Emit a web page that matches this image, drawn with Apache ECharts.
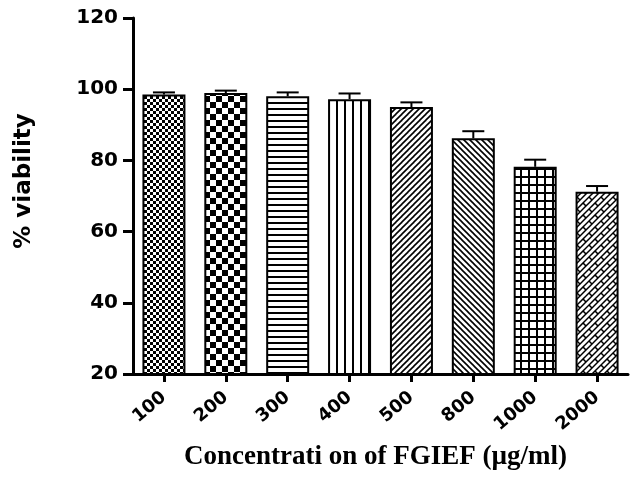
<!DOCTYPE html>
<html>
<head>
<meta charset="utf-8">
<script src="https://cdn.jsdelivr.net/npm/echarts@6/dist/echarts.min.js"></script>
<style>html,body{margin:0;padding:0;background:#fff}#c{width:640px;height:480px}</style>
</head>
<body>
<div id="c"></div>
<script>
const categories = ['100', '200', '300', '400', '500', '800', '1000', '2000'];
const viability = [98.5, 98.9, 98.0, 97.2, 95.0, 86.2, 78.2, 71.2];
const errors = [0.6, 0.7, 1.1, 1.6, 1.3, 2.0, 2.0, 1.6];
const yTicks = [20, 40, 60, 80, 100, 120];
const patternKinds = ['fineChecker', 'checker', 'hlines', 'vlines', 'diagUp', 'diagDown', 'grid', 'brick'];

function makePattern(kind) {
  const sizes = {fineChecker: 6, checker: 12, hlines: 6, vlines: 8, diagUp: 6, diagDown: 6, grid: 8, brick: 12};
  const s = sizes[kind];
  const c = document.createElement('canvas');
  c.width = s; c.height = s;
  const g = c.getContext('2d');
  g.fillStyle = '#fff'; g.fillRect(0, 0, s, s);
  g.fillStyle = '#000'; g.strokeStyle = '#000';
  if (kind === 'fineChecker') { g.fillRect(0, 0, 3, 3); g.fillRect(3, 3, 3, 3); }
  else if (kind === 'checker') { g.fillRect(0, 0, 6, 6); g.fillRect(6, 6, 6, 6); }
  else if (kind === 'hlines') { g.fillRect(0, 0, s, 2); }
  else if (kind === 'vlines') { g.fillRect(0, 0, 2, s); }
  else if (kind === 'grid') { g.fillRect(0, 0, s, 2); g.fillRect(0, 0, 2, s); }
  else if (kind === 'diagUp' || kind === 'diagDown') {
    g.lineWidth = 1.6;
    for (let k = -1; k <= 1; k++) {
      g.beginPath();
      if (kind === 'diagUp') { g.moveTo(k * s - 1, s + 1); g.lineTo(k * s + s + 1, -1); }
      else { g.moveTo(k * s - 1, -1); g.lineTo(k * s + s + 1, s + 1); }
      g.stroke();
    }
  } else if (kind === 'brick') {
    g.lineWidth = 1.5;
    for (let k = -1; k <= 1; k++) {
      for (const o of [0, 6]) {
        g.beginPath(); g.moveTo(k * s + o - 1, s + 1); g.lineTo(k * s + o + s + 1, -1); g.stroke();
      }
    }
    g.beginPath(); g.moveTo(1, 5); g.lineTo(4, 8); g.stroke();
    g.beginPath(); g.moveTo(7, 11); g.lineTo(10, 14); g.stroke();
    g.beginPath(); g.moveTo(7, -1); g.lineTo(10, 2); g.stroke();
  }
  return {image: c, repeat: 'repeat'};
}

const barData = viability.map((v, i) => ({
  value: v,
  itemStyle: {color: makePattern(patternKinds[i]), borderColor: '#000', borderWidth: 2}
}));
const errData = viability.map((v, i) => [i, v, errors[i]]);

const chart = echarts.init(document.getElementById('c'), null, {renderer: 'canvas'});
chart.setOption({
  animation: false,
  backgroundColor: '#fff',
  grid: {left: 133, right: 12, top: 18, bottom: 106, containLabel: false},
  xAxis: {
    type: 'category',
    data: categories,
    name: 'Concentrati on of FGIEF (µg/ml)',
    nameLocation: 'middle',
    nameGap: 70,
    nameTextStyle: {fontFamily: 'Liberation Serif', fontWeight: 'bold', fontSize: 27, color: '#000', padding: [0, 10, 0, 0]},
    axisLine: {lineStyle: {color: '#000', width: 3}},
    axisTick: {show: true, alignWithLabel: true, length: 8, lineStyle: {color: '#000', width: 3}},
    axisLabel: {rotate: 40, margin: 21, fontFamily: 'DejaVu Sans', fontWeight: 'bold', fontSize: 18, color: '#000', interval: 0}
  },
  yAxis: {
    type: 'value',
    min: yTicks[0],
    max: yTicks[yTicks.length - 1],
    interval: 20,
    name: '% viability',
    nameLocation: 'middle',
    nameGap: 97,
    nameRotate: 90,
    nameTextStyle: {fontFamily: 'DejaVu Sans', fontWeight: 'bold', fontSize: 23, color: '#000', padding: [0, 0, 0, 30]},
    axisLine: {show: true, lineStyle: {color: '#000', width: 3}},
    axisTick: {show: true, length: 10, lineStyle: {color: '#000', width: 3}},
    axisLabel: {margin: 15, fontFamily: 'DejaVu Sans', fontWeight: 'bold', fontSize: 20, color: '#000'},
    splitLine: {show: false}
  },
  series: [
    {type: 'bar', data: barData, barWidth: 43, z: 2},
    {
      type: 'custom',
      data: errData,
      z: 3,
      renderItem: function (params, api) {
        const x = api.value(0), v = api.value(1), e = api.value(2);
        const p0 = api.coord([x, v]);
        const p1 = api.coord([x, v + e]);
        const hw = 11;
        return {
          type: 'group',
          children: [
            {type: 'line', shape: {x1: p0[0], y1: p0[1], x2: p1[0], y2: p1[1]}, style: {stroke: '#000', lineWidth: 2}},
            {type: 'line', shape: {x1: p1[0] - hw, y1: p1[1], x2: p1[0] + hw, y2: p1[1]}, style: {stroke: '#000', lineWidth: 2}}
          ]
        };
      }
    }
  ]
});
</script>
</body>
</html>
